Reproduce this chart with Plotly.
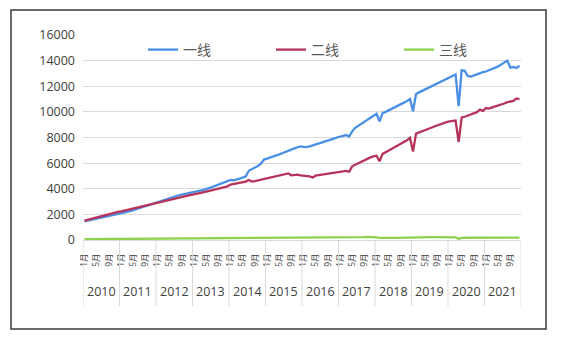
import plotly.graph_objects as go

# Monthly series, 2010-01 .. 2021-12
years = list(range(2010, 2022))
months = list(range(1, 13))
labeled_months = [1, 5, 9]

tier1 = [
    1450, 1500, 1560, 1610, 1660, 1710, 1770, 1830, 1890, 1950, 2010, 2060,
    2090, 2130, 2180, 2250, 2330, 2410, 2490, 2570, 2650, 2730, 2800, 2870,
    2950, 3030, 3110, 3190, 3270, 3350, 3420, 3490, 3550, 3610, 3670, 3720,
    3760, 3800, 3850, 3900, 3970, 4050, 4140, 4230, 4320, 4410, 4500, 4590,
    4680, 4650, 4700, 4790, 4880, 4960, 5400, 5520, 5650, 5780, 5950, 6280,
    6350, 6420, 6500, 6590, 6680, 6770, 6850, 6950, 7050, 7150, 7240, 7300,
    7270, 7250, 7310, 7380, 7440, 7510, 7590, 7670, 7750, 7840, 7920, 8000,
    8060, 8130, 8190, 8080, 8480, 8760, 8910, 9070, 9220, 9380, 9540, 9700,
    9850, 9250, 9900, 10000, 10110, 10230, 10350, 10470, 10600, 10720, 10850, 11000,
    10050, 11400, 11520, 11640, 11760, 11880, 12000, 12120, 12240, 12360, 12500, 12620,
    12720, 12820, 12920, 10450, 13250, 13200, 12800, 12750, 12850, 12950, 13050, 13100,
    13150, 13250, 13300, 13450, 13550, 13700, 13850, 14000, 13450, 13500, 13420, 13600,
]

tier2 = [
    1520, 1580, 1640, 1710, 1780, 1850, 1920, 1990, 2050, 2100, 2150, 2200,
    2230, 2280, 2330, 2390, 2450, 2510, 2570, 2630, 2690, 2750, 2810, 2860,
    2920, 2960, 3020, 3080, 3140, 3190, 3250, 3300, 3360, 3410, 3470, 3520,
    3570, 3610, 3660, 3710, 3770, 3830, 3890, 3950, 4010, 4070, 4130, 4190,
    4330, 4380, 4420, 4460, 4500, 4560, 4680, 4560, 4600, 4650, 4720, 4800,
    4850, 4900, 4950, 4990, 5030, 5080, 5150, 5200, 5050, 5080, 5100, 5050,
    5020, 5000, 4960, 4880, 5020, 5060, 5100, 5140, 5180, 5220, 5260, 5300,
    5330, 5370, 5400, 5330, 5750, 5880, 6000, 6120, 6240, 6350, 6450, 6530,
    6580, 6150, 6720, 6850, 6980, 7110, 7240, 7370, 7500, 7640, 7780, 7980,
    6900, 8300, 8380, 8460, 8560, 8660, 8760, 8860, 8950, 9050, 9120, 9200,
    9250, 9290, 9320, 7650, 9560, 9620, 9700, 9780, 9870, 9980, 10180, 10080,
    10300, 10250, 10350, 10420, 10480, 10560, 10650, 10760, 10820, 10850, 11050, 11000,
]

tier3 = [
    60, 62, 65, 68, 70, 72, 75, 78, 80, 82, 85, 88,
    90, 92, 94, 96, 98, 100, 102, 104, 106, 108, 110, 112,
    113, 114, 115, 116, 117, 118, 119, 120, 121, 122, 123, 124,
    125, 126, 127, 128, 129, 130, 131, 132, 133, 134, 135, 136,
    137, 138, 139, 140, 140, 141, 141, 142, 142, 143, 143, 144,
    144, 144, 145, 145, 146, 146, 147, 147, 148, 148, 149, 149,
    150, 150, 151, 151, 152, 152, 153, 153, 154, 154, 155, 156,
    157, 158, 160, 162, 165, 170, 180, 200, 225, 240, 245, 230,
    200, 160, 150, 152, 155, 160, 165, 170, 180, 190, 200, 210,
    215, 225, 230, 232, 233, 232, 230, 228, 225, 222, 220, 218,
    215, 212, 205, 90, 170, 175, 178, 180, 182, 184, 185, 186,
    186, 187, 188, 189, 190, 190, 191, 191, 192, 192, 193, 193,
]

names = ["一线", "二线", "三线"]
colors = ["#4a8fe6", "#b6335a", "#8fd14f"]

periods = [(y, m) for y in years for m in months]
x = list(range(len(periods)))

tickvals = [i for i, (y, m) in enumerate(periods) if m in labeled_months]
ticktext = [f"{periods[i][1]}月" for i in tickvals]

fig = go.Figure()
for name, series, color in zip(names, [tier1, tier2, tier3], colors):
    fig.add_trace(go.Scatter(
        x=x, y=series, mode="lines", name=name,
        line=dict(color=color, width=2.3),
    ))

axis_font = "Open Sans, Noto Sans CJK SC, sans-serif"
ml, mr, mt, mb = 83, 41, 35, 99
W, H = 562, 339
pw, ph = W - ml - mr, H - mt - mb

def px_to_paper_x(px):
    return (px - ml) / pw

def px_to_paper_y(py):
    return (H - mb - py) / ph

shapes = []
# year group dividers below the axis
n = len(months)
for k in range(len(years) + 1):
    shapes.append(dict(
        type="line", xref="x", yref="paper",
        x0=k * n - 0.5, x1=k * n - 0.5,
        y0=0, y1=px_to_paper_y(306),
        line=dict(color="#d9d9d9", width=1),
    ))
# chart frame
shapes.append(dict(
    type="rect", xref="paper", yref="paper",
    x0=px_to_paper_x(11), x1=px_to_paper_x(546),
    y0=px_to_paper_y(329), y1=px_to_paper_y(10),
    line=dict(color="#3a3a3a", width=1.5),
    fillcolor="rgba(0,0,0,0)", layer="below",
))

annotations = []
for k, yr in enumerate(years):
    annotations.append(dict(
        x=k * n + (n - 1) / 2, y=px_to_paper_y(291),
        xref="x", yref="paper", text=str(yr), showarrow=False,
        font=dict(family=axis_font, size=12.5, color="#404040"),
        xanchor="center", yanchor="middle",
    ))

fig.update_layout(
    width=W, height=H,
    margin=dict(l=ml, r=mr, t=mt, b=mb, pad=0),
    paper_bgcolor="white", plot_bgcolor="white",
    showlegend=True,
    legend=dict(
        orientation="h", x=px_to_paper_x(143), y=px_to_paper_y(50),
        xanchor="left", yanchor="middle",
        entrywidth=83, entrywidthmode="pixels",
        font=dict(family=axis_font, size=14, color="#595959"),
        bgcolor="rgba(0,0,0,0)", itemwidth=30,
    ),
    xaxis=dict(
        range=[-0.5, len(x) - 0.5],
        tickmode="array", tickvals=tickvals, ticktext=ticktext,
        tickangle=-90, tickfont=dict(family=axis_font, size=8.5, color="#404040"),
        ticklabelstandoff=9,
        showgrid=False, zeroline=False,
        showline=True, linecolor="#d9d9d9", linewidth=1,
        ticks="",
    ),
    yaxis=dict(
        range=[0, 16000], dtick=2000, tickformat="d",
        tickfont=dict(family=axis_font, size=12.5, color="#404040"),
        ticklabelstandoff=7,
        showgrid=True, gridcolor="#d9d9d9", gridwidth=1,
        zeroline=False, showline=False,
    ),
    shapes=shapes,
    annotations=annotations,
)

fig.write_html("out.html")
